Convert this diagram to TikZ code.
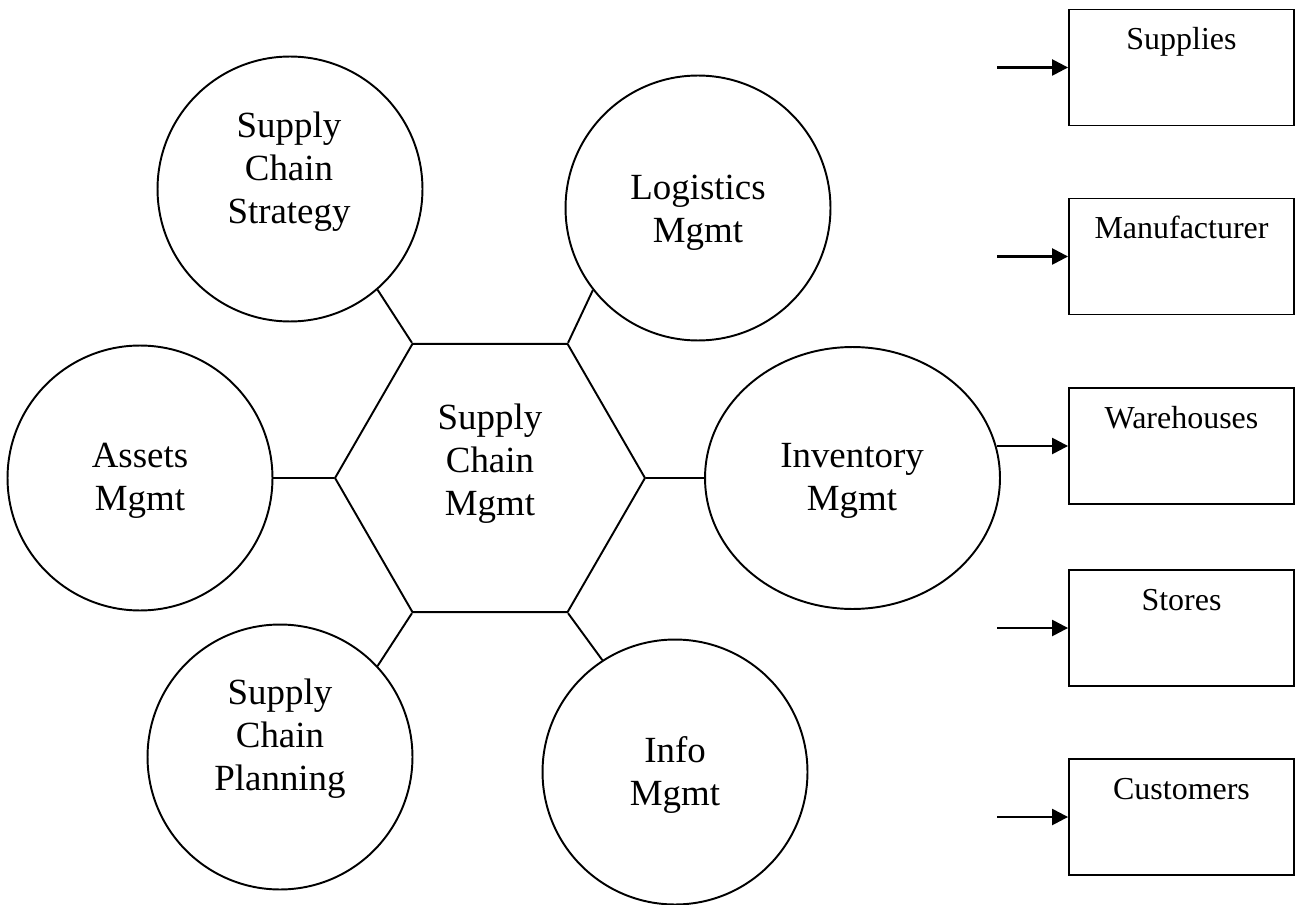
\documentclass[tikz,border=0pt]{standalone}
\usepackage{fontspec}
\setmainfont{Liberation Serif}
\usetikzlibrary{shapes.geometric,arrows.meta}
\tikzset{
  bubble/.style={draw, circle, line width=1.1pt, minimum size=5.3cm, inner sep=0pt},
  oval/.style={draw, ellipse, line width=1.1pt, minimum width=5.9cm, minimum height=5.24cm, inner sep=0pt},
  hexa/.style={draw, regular polygon, regular polygon sides=6, line width=1.1pt, minimum size=6.2cm, inner sep=0pt},
  caption/.style={align=center, inner sep=0pt, font=\fontsize{21}{24.5}\selectfont},
  unit/.style={draw, line width=1.1pt, minimum width=4.5cm, inner xsep=0pt, inner ysep=0pt,
    text height=0.8cm, text depth=1.52cm, font=\fontsize{18.2}{21}\selectfont},
  feed/.style={-{Triangle[length=0.32cm,width=0.32cm]}, line width=1.4pt},
}
\begin{document}
\begin{tikzpicture}[x=0.02cm,y=-0.02cm]
      \useasboundingbox (0,0) rectangle (1297,905);
      \path
        (490,478) node[hexa] (scm){}
        (290,189) node[bubble] (strategy){}
        (698,208) node[bubble] (logistics){}
        (140,478) node[bubble] (assets){}
        (852.5,478) node[oval] (inventory){}
        (280,757) node[bubble] (planning){}
        (675,772) node[bubble] (info){};
      \path
        (490,464) node[caption] (scmtext){Supply\\Chain\\Mgmt}
        (289,172) node[caption] (strategytext){Supply\\Chain\\Strategy}
        (698,213) node[caption] (logisticstext){Logistics\\Mgmt}
        (140,481) node[caption] (assetstext){Assets\\Mgmt}
        (852,481) node[caption] (inventorytext){Inventory\\Mgmt}
        (280,739) node[caption] (planningtext){Supply\\Chain\\Planning}
        (675,775) node[caption] (infotext){Info\\Mgmt};
      \path
        (1181.5,67.5) node[unit] (supplies){Supplies}
        (1181.5,256.5) node[unit] (manufacturer){Manufacturer}
        (1181.5,446) node[unit] (warehouses){Warehouses}
        (1181.5,628) node[unit] (stores){Stores}
        (1181.5,817) node[unit] (customers){Customers};
      \coordinate (in1) at (997,67.5);
      \coordinate (in2) at (997,256.5);
      \coordinate (in3) at (997,446);
      \coordinate (in4) at (997,628);
      \coordinate (in5) at (997,817);
      \begin{scope}[line width=1.1pt]
        \draw (strategy.-49) to (scm.120);
        \draw (logistics.218) to (scm.60);
        \draw (assets.east) to (scm.180);
        \draw (scm.0) to (inventory.west);
        \draw (planning.43) to (scm.240);
        \draw (info.123) to (scm.300);
      \end{scope}
      \begin{scope}[feed]
        \draw (in1) to (supplies.west);
        \draw (in2) to (manufacturer.west);
        \draw (in3) to (warehouses.west);
        \draw (in4) to (stores.west);
        \draw (in5) to (customers.west);
      \end{scope}
    \end{tikzpicture}
\end{document}
